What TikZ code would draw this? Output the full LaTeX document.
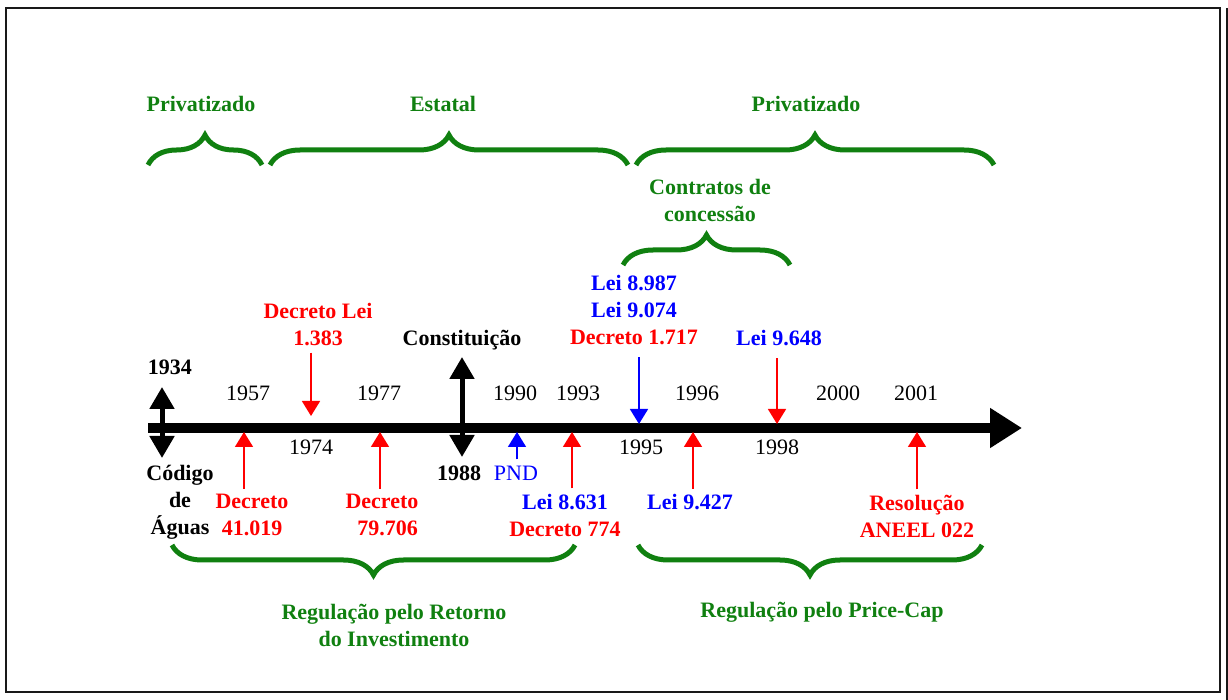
\documentclass[tikz,border=0pt]{standalone}
\usepackage{fontspec}
\setmainfont{Liberation Serif}
\usepackage{tikz}
\usetikzlibrary{arrows.meta, calc, decorations.pathreplacing}
\definecolor{regGreen}{RGB}{16,128,16}
\definecolor{lawRed}{RGB}{255,0,0}
\definecolor{lawBlue}{RGB}{0,0,255}
\definecolor{frameBlack}{gray}{0.1}

\begin{document}
\fontsize{11}{13.5}\selectfont
\begin{tikzpicture}[x=0.5pt, y=-0.5pt, >=stealth,
    lbl/.style={font=\bfseries, align=center, inner sep=0pt},
    yr/.style={inner sep=0pt},
    evt/.style={-{Triangle[length=7.5pt,width=9pt]}, line width=0.75pt},
    bigarr/.style={{Triangle[length=11pt,width=12pt]}-{Triangle[length=11pt,width=12pt]}, line width=2.5pt},
    grp/.style={decorate, decoration={brace, amplitude=15pt}, line width=2.5pt, regGreen}]
    \useasboundingbox (0,0) rectangle (1228,700);

    % Frame
    \draw[frameBlack, line width=1.2pt] (6,8) rectangle (1220,692);
    \draw[frameBlack, line width=1pt] (1227,8) -- (1227,700);

    % Periods
    \node[lbl, regGreen] (privL) at (201,104) {Privatizado};
    \node[lbl, regGreen] (estatal) at (443,104) {Estatal};
    \node[lbl, regGreen] (privR) at (806,104) {Privatizado};
    \draw[grp] (148,165) -- (262,165);
    \draw[grp] (270,165) -- (628,165);
    \draw[grp] (636,165) -- (994,165);

    \node[lbl, regGreen] (contratos) at (710,200) {Contratos de\\concessão};
    \draw[grp] (623,265) -- (790,265);

    % Axis
    \draw[line width=5pt, -{Triangle[length=16pt,width=19pt]}] (148,428) -- (1022,428);

    % Years
    \node[yr] (y1957) at (248,393) {1957};
    \node[yr] (y1977) at (379,393) {1977};
    \node[yr] (y1990) at (515,393) {1990};
    \node[yr] (y1993) at (578,393) {1993};
    \node[yr] (y1996) at (697,393) {1996};
    \node[yr] (y2000) at (838,393) {2000};
    \node[yr] (y2001) at (916,393) {2001};
    \node[yr] (y1974) at (311,447) {1974};
    \node[yr] (y1995) at (641,447) {1995};
    \node[yr] (y1998) at (777,447) {1998};

    % 1934 and 1988
    \node[lbl] (y1934) at (170,367) {1934};
    \node[lbl] (codigo) at (180,502) {Código\\de\\Águas};
    \coordinate (c1934a) at (162,387);
    \coordinate (c1934b) at (162,458);
    \draw[bigarr] (c1934a) -- (c1934b);

    \node[lbl] (constituicao) at (462,340) {Constituição};
    \node[lbl] (y1988) at (459,473) {1988};
    \coordinate (c1988a) at (462,357);
    \coordinate (c1988b) at (462,457);
    \draw[bigarr] (c1988a) -- (c1988b);

    % Events above the axis
    \node[lbl, lawRed] (dl1383) at (318,325) {Decreto Lei\\1.383};
    \node[lbl] (leis1995) at (634,310) {\textcolor{lawBlue}{Lei 8.987}\\\textcolor{lawBlue}{Lei 9.074}\\\textcolor{lawRed}{Decreto 1.717}};
    \node[lbl, lawBlue] (lei9648) at (779,338) {Lei 9.648};
    \coordinate (e1974) at (311,416);
    \coordinate (e1995) at (639,424);
    \coordinate (e1998) at (777,424);
    \draw[evt, lawRed] (e1974 |- dl1383.south) ++(0,6) -- (e1974);
    \draw[evt, lawBlue] (e1995 |- leis1995.south) ++(0,12) -- (e1995);
    \draw[evt, lawRed] (e1998 |- lei9648.south) ++(0,12) -- (e1998);

    % Events below the axis
    \node[lbl, lawRed] (d41019) at (252,515) {Decreto\\41.019};
    \node[lbl, lawRed] (d79706) at (382,515) {Decreto\\\phantom{0}79.706};
    \node[yr, lawBlue] (pnd) at (516,473) {PND};
    \node[lbl] (lei8631) at (565,515) {\textcolor{lawBlue}{Lei 8.631}\\\textcolor{lawRed}{Decreto 774}};
    \node[lbl, lawBlue] (lei9427) at (690,502) {Lei 9.427};
    \node[lbl, lawRed] (aneel) at (917,516) {Resolução\\ANEEL 022};
    \coordinate (e1957) at (244,432);
    \coordinate (e1977) at (380,432);
    \coordinate (e1990) at (517,432);
    \coordinate (e1993) at (572,432);
    \coordinate (e1996) at (693,432);
    \coordinate (e2001) at (917,432);
    \draw[evt, lawRed] (e1957 |- d41019.north) ++(0,-5) -- (e1957);
    \draw[evt, lawRed] (e1977 |- d79706.north) ++(0,-5) -- (e1977);
    \draw[evt, lawBlue] (e1990 |- pnd.north) ++(0,-6) -- (e1990);
    \draw[evt, lawRed] (e1993 |- lei8631.north) ++(0,-5) -- (e1993);
    \draw[evt, lawRed] (e1996 |- lei9427.north) ++(0,-5) -- (e1996);
    \draw[evt, lawRed] (e2001 |- aneel.north) ++(0,-5) -- (e2001);

    % Regulation
    \draw[grp] (575,545) -- (172,545);
    \draw[grp] (982,545) -- (638,545);
    \node[lbl, regGreen] (regRetorno) at (394,625) {Regulação pelo Retorno\\do Investimento};
    \node[lbl, regGreen] (regPrice) at (822,612) {Regulação pelo Price-Cap};
\end{tikzpicture}
\end{document}
